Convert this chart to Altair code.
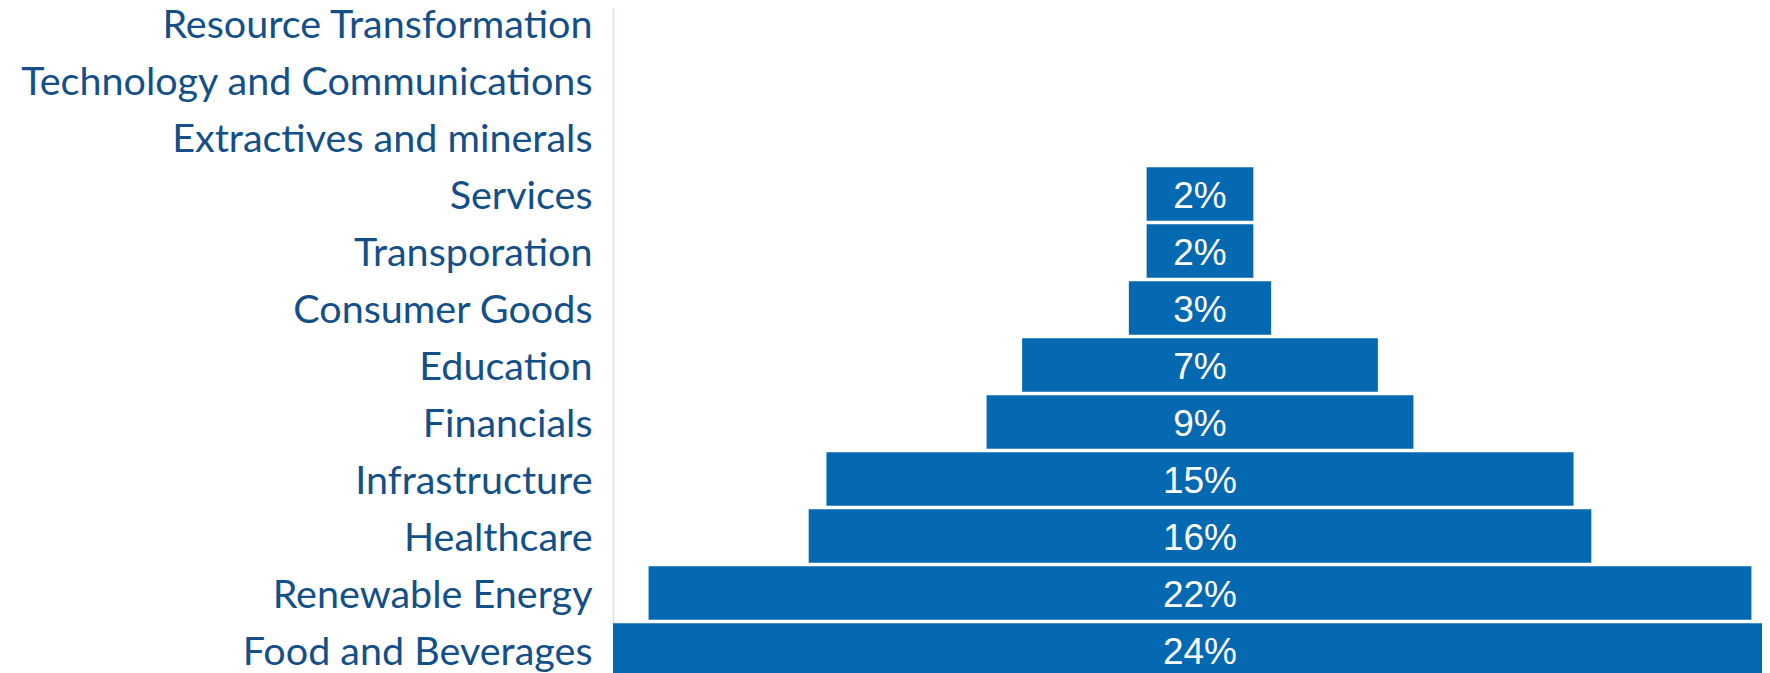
import altair as alt
import pandas as pd

sectors = [
    "Resource Transformation",
    "Technology and Communications",
    "Extractives and minerals",
    "Services",
    "Transporation",
    "Consumer Goods",
    "Education",
    "Financials",
    "Infrastructure",
    "Healthcare",
    "Renewable Energy",
    "Food and Beverages",
]
counts = [0, 0, 0, 3, 3, 4, 10, 12, 21, 22, 31, 33]

df = pd.DataFrame({"sector": sectors, "count": counts})

BAR = "#0569B2"
LABEL = "#144F88"

base = (
    alt.Chart(df)
    .transform_joinaggregate(total="sum(count)", maxc="max(count)")
    .transform_calculate(
        start="(datum.maxc - datum.count) / 2",
        end="(datum.maxc + datum.count) / 2",
        mid="datum.maxc / 2",
        pct="datum.count / datum.total",
    )
)

y_enc = alt.Y(
    "sector:N",
    sort=sectors,
    title=None,
    scale=alt.Scale(range=[-13.5, 670.5], paddingInner=0.058, paddingOuter=0.029),
    axis=alt.Axis(
        labelFont="Lato",
        labelFontSize=39.5,
        labelColor=LABEL,
        labelPadding=21,
        labelLimit=0,
        labelOffset=3,
        ticks=False,
        tickSize=0,
        domainColor="#CFE3F6",
        domainWidth=1.5,
        grid=False,
    ),
)

x_scale = alt.Scale(domain=[0, 33], range=[0, 1174], nice=False, zero=False)

bars = base.mark_bar(color=BAR, clip=True).encode(
    y=y_enc,
    x=alt.X("start:Q", scale=x_scale, axis=None),
    x2="end:Q",
)

labels = (
    base.transform_filter("datum.count > 0")
    .mark_text(
        font="Liberation Sans",
        fontSize=37,
        color="white",
        baseline="middle",
        align="center",
        dy=3,
        clip=True,
    )
    .encode(
        y=alt.Y("sector:N", sort=sectors),
        x=alt.X("mid:Q", scale=x_scale, axis=None),
        text=alt.Text("pct:Q", format=".0%"),
    )
)

chart = (
    alt.layer(bars, labels)
    .properties(
        width=1149,
        height=665,
        autosize=alt.AutoSizeParams(type="none"),
        padding={"left": 605, "top": 0, "right": 0, "bottom": 0},
        background="white",
    )
    .configure_view(stroke=None)
)

chart.save("out.html", embed_options={"renderer": "svg", "actions": False})
